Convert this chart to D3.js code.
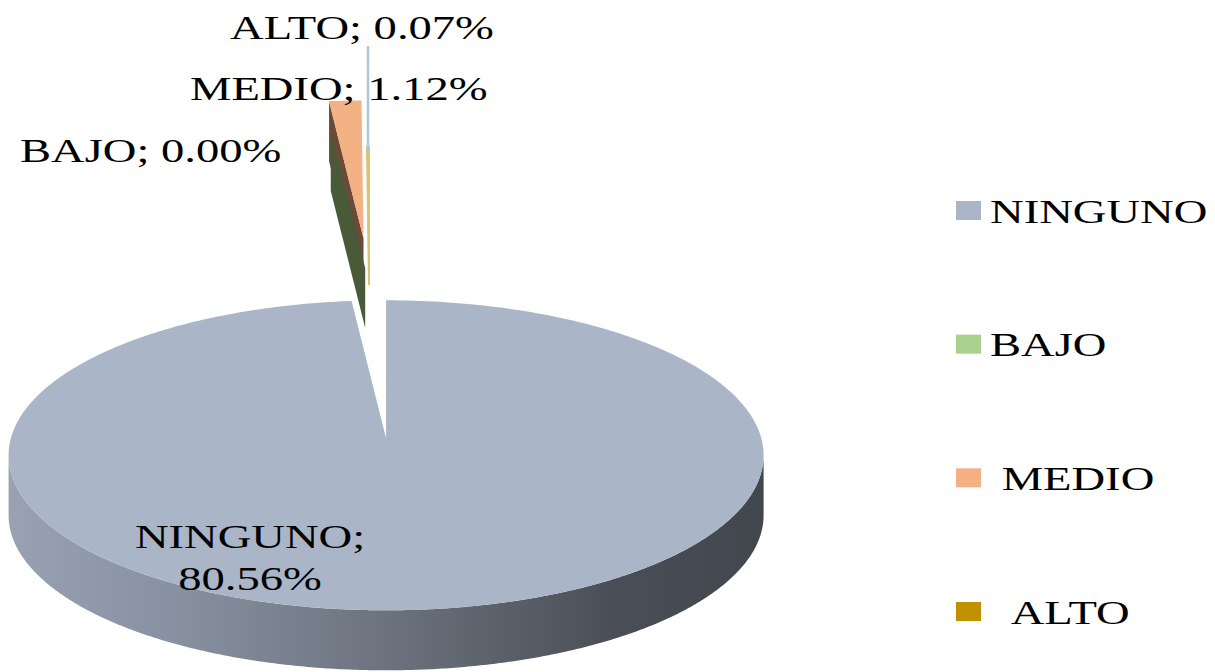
<!DOCTYPE html>
<html><head><meta charset="utf-8">
<script src="https://cdn.jsdelivr.net/npm/d3@7"></script>
<style>
body{margin:0;background:#fff}
svg{display:block}
text{font-family:"Liberation Serif","Times New Roman",serif;white-space:pre;fill:#000}
</style>
</head><body>
<svg id="c" width="1215" height="672"></svg>
<script>
// ---- data ----
const categories = ["NINGUNO", "BAJO", "MEDIO", "ALTO"];
const values = [80.56, 0.00, 1.12, 0.07];
const legendLabels = ["NINGUNO", "BAJO", " MEDIO", "  ALTO"];

// ---- style ----
const colors = ["#aab5c7", "#a9d18e", "#f4b183", "#bf9000"];
const faceColors = ["#8e98a8", "#485a38", "#6a4b39", "#dcc276"];
const explode = [0.99, 0.11, 0.30, 0.0];
const drawOrder = [2, 3, 1, 0];
const base = {x: 369, y: 285};
const rx = 377.5, ry = 155, persp = 17, depth = 60;
const fontSize = 34, stretch = 1.37;
const labelPos = [
  {x: 250, y: 548, anchor: "middle"},
  {x: 20, y: 162, anchor: "start"},
  {x: 190, y: 100, anchor: "start"},
  {x: 230, y: 39, anchor: "start"}
];

const svg = d3.select("#c");
const defs = svg.append("defs");
const grad = defs.append("linearGradient").attr("id", "sideGrad")
  .attr("x1", "0%").attr("x2", "100%").attr("y1", "0%").attr("y2", "0%");
[[0, "#98a2b3"], [0.25, "#858e9d"], [0.5, "#6c737e"], [0.8, "#4a4f57"], [1, "#42464d"]]
  .forEach(([o, c]) => grad.append("stop").attr("offset", o).attr("stop-color", c));

const arcs = d3.pie().sort(null).value(d => d).startAngle(0).endAngle(2 * Math.PI)(values);

const centers = arcs.map((a, i) => {
  const mid = (a.startAngle + a.endAngle) / 2;
  return {x: base.x + explode[i] * rx * Math.sin(mid), y: base.y - explode[i] * ry * Math.cos(mid)};
});
const rim = (c, a, dz = 0) => [c.x + rx * Math.sin(a), c.y + persp - ry * Math.cos(a) + dz];
const sample = (a0, a1) => {
  const n = Math.max(2, Math.ceil(Math.abs(a1 - a0) / (Math.PI / 360)));
  return d3.range(n + 1).map(k => a0 + (a1 - a0) * k / n);
};
const line = d3.line();

const g = svg.append("g");
drawOrder.forEach(i => {
  const a = arcs[i], c = centers[i];
  const a0 = a.startAngle, a1 = a.endAngle;
  // outer curved side (front half only)
  const s0 = Math.max(a0, Math.PI / 2), s1 = Math.min(a1, 3 * Math.PI / 2);
  if (s1 > s0) {
    const top = sample(s0, s1).map(t => rim(c, t));
    const bot = sample(s0, s1).reverse().map(t => rim(c, t, depth));
    g.append("path").attr("d", line(top.concat(bot)) + "Z")
      .attr("fill", i === 0 ? "url(#sideGrad)" : faceColors[i]);
  }
  // radial start face (visible for the small exploded slices)
  if (i === 1 || i === 2) {
    const p1 = rim(c, a0), p2 = rim(c, a0, depth);
    g.append("path").attr("d", line([[c.x, c.y], p1, p2, [c.x, c.y + depth]]) + "Z")
      .attr("fill", faceColors[i]);
  }
  // top face
  if (a1 > a0) {
    const pts = [[c.x, c.y]].concat(sample(a0, a1).map(t => rim(c, t)));
    g.append("path").attr("d", line(pts) + "Z")
      .attr("fill", colors[i])
      .attr("stroke", i === 3 ? faceColors[i] : "none").attr("stroke-width", 2);
  }
});

// leader line for ALTO
{
  const i = 3, a = arcs[i], c = centers[i];
  const p = rim(c, (a.startAngle + a.endAngle) / 2);
  svg.append("line").attr("x1", p[0]).attr("x2", p[0]).attr("y1", labelPos[i].y + 7).attr("y2", p[1] + 4)
    .attr("stroke", "#b4c4d8").attr("stroke-width", 2.5);
}

// data labels
arcs.forEach((a, i) => {
  const lp = labelPos[i];
  const t = svg.append("g").attr("transform", `translate(${lp.x},${lp.y}) scale(${stretch},1)`)
    .append("text").attr("font-size", fontSize).attr("text-anchor", lp.anchor);
  if (i === 0) {
    t.append("tspan").attr("x", 0).attr("y", 0).text(`${categories[i]};`);
    t.append("tspan").attr("x", 0).attr("y", 42).text(`${values[i].toFixed(2)}%`);
  } else {
    t.text(`${categories[i]}; ${values[i].toFixed(2)}%`);
  }
});

// legend
const legY = d3.scalePoint().domain(categories).range([201, 602]);
const leg = svg.append("g");
categories.forEach((cat, i) => {
  leg.append("rect").attr("x", 956).attr("y", legY(cat)).attr("width", 25).attr("height", 19)
    .attr("fill", colors[i]);
  leg.append("g").attr("transform", `translate(990,${legY(cat) + 21.5}) scale(${stretch},1)`)
    .append("text").attr("font-size", fontSize).text(legendLabels[i]);
});
</script>
</body></html>
